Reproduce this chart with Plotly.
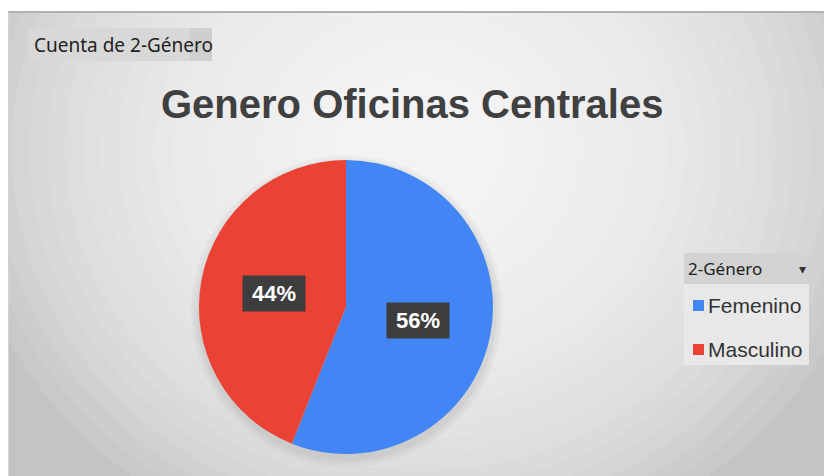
import math
import plotly.graph_objects as go

categories = ["Femenino", "Masculino"]
values = [56, 44]
colors = ["#4285F4", "#EA4335"]
title_text = "Genero Oficinas Centrales"
field_button = "Cuenta de 2-Género"
legend_header = "2-Género"

W, H = 824, 476
cx, cy, r = 346, 307, 147  # pie placement in px


def px_x(x):
    return x / W


def px_y(y):
    return 1 - y / H


fig = go.Figure()

shapes = []
# chart area base + radial gradient made of stacked translucent ellipses
shapes.append(dict(type="rect", xref="paper", yref="paper", x0=px_x(8), x1=1.0, y0=0, y1=px_y(12),
                   fillcolor="#c4c4c4", line=dict(width=0), layer="below"))
n = 22
gcx, gcy = 420, 150
for i in range(n):
    rad = 440 - i * 17
    shapes.append(dict(type="circle", xref="paper", yref="paper",
                       x0=px_x(gcx - rad * 1.05), x1=px_x(gcx + rad * 1.05),
                       y0=px_y(gcy + rad * 0.95), y1=px_y(gcy - rad * 0.95),
                       fillcolor="white", opacity=0.085, line=dict(width=0), layer="below"))
# white margins outside chart area
shapes.append(dict(type="rect", xref="paper", yref="paper", x0=0, x1=px_x(8), y0=0, y1=1,
                   fillcolor="white", line=dict(width=0), layer="below"))
shapes.append(dict(type="rect", xref="paper", yref="paper", x0=0, x1=1, y0=px_y(12), y1=1,
                   fillcolor="white", line=dict(width=0), layer="below"))
shapes.append(dict(type="line", xref="paper", yref="paper", x0=px_x(8), x1=1, y0=px_y(12), y1=px_y(12),
                   line=dict(color="#b0b0b0", width=2), layer="below"))
shapes.append(dict(type="line", xref="paper", yref="paper", x0=px_x(8.5), x1=px_x(8.5), y0=0, y1=px_y(12),
                   line=dict(color="#d2d2d2", width=1), layer="below"))
# soft pie shadow
for grow, op in [(9, 0.03), (6, 0.04), (3, 0.05)]:
    shapes.append(dict(type="circle", xref="paper", yref="paper",
                       x0=px_x(cx - r - grow + 1), x1=px_x(cx + r + grow + 1),
                       y0=px_y(cy + r + grow + 4), y1=px_y(cy - r - grow + 4),
                       fillcolor="#444444", opacity=op, line=dict(width=0), layer="below"))
# field button
shapes.append(dict(type="rect", xref="paper", yref="paper", x0=px_x(28), x1=px_x(212),
                   y0=px_y(61), y1=px_y(28), fillcolor="#d8d8d8", line=dict(width=0), layer="below"))
shapes.append(dict(type="rect", xref="paper", yref="paper", x0=px_x(190), x1=px_x(212),
                   y0=px_y(61), y1=px_y(28), fillcolor="#c9c9c9", opacity=0.6, line=dict(width=0), layer="below"))
# legend panel and header
shapes.append(dict(type="rect", xref="paper", yref="paper", x0=px_x(684), x1=px_x(809),
                   y0=px_y(365), y1=px_y(253), fillcolor="#e8e8e8", line=dict(width=0), layer="below"))
shapes.append(dict(type="rect", xref="paper", yref="paper", x0=px_x(684), x1=px_x(809),
                   y0=px_y(284), y1=px_y(253), fillcolor="#d3d3d3", line=dict(width=0), layer="below"))

fig.add_trace(go.Pie(
    labels=categories, values=values, sort=False, direction="clockwise", rotation=0,
    marker=dict(colors=colors, line=dict(width=0)),
    textinfo="none", hoverinfo="label+percent", showlegend=False,
    domain=dict(x=[px_x(cx - r), px_x(cx + r)], y=[px_y(cy + r), px_y(cy - r)]),
))

annotations = []
# percentage labels as boxed annotations, positioned from the data
total = sum(values)
cum = 0
for v in values:
    mid = (cum + v / 2) / total * 2 * math.pi
    cum += v
    lx = cx + 0.5 * r * math.sin(mid)
    ly = cy - 0.5 * r * math.cos(mid)
    annotations.append(dict(x=px_x(lx), y=px_y(ly), xref="paper", yref="paper",
                            xanchor="center", yanchor="middle",
                            text="<b>%d%%</b>" % round(v / total * 100), showarrow=False,
                            font=dict(family="Arial", size=22, color="white"),
                            bgcolor="#3d3d3d", borderpad=5, width=52, height=25))

annotations.append(dict(x=0.5, y=px_y(104), xref="paper", yref="paper", xanchor="center", yanchor="middle",
                        text="<b>" + title_text + "</b>", showarrow=False,
                        font=dict(family="Arial", size=40, color="#404040")))
annotations.append(dict(x=px_x(32), y=px_y(45), xref="paper", yref="paper", xanchor="left", yanchor="middle",
                        text=field_button, showarrow=False,
                        font=dict(family="Noto Sans", size=19, color="#222222")))
annotations.append(dict(x=px_x(686), y=px_y(268), xref="paper", yref="paper", xanchor="left", yanchor="middle",
                        text=legend_header, showarrow=False,
                        font=dict(family="Noto Sans", size=17, color="#222222")))
annotations.append(dict(x=px_x(802), y=px_y(269), xref="paper", yref="paper", xanchor="center", yanchor="middle",
                        text="▾", showarrow=False, font=dict(family="DejaVu Sans", size=14, color="#333333")))

# legend entries (square swatch + label)
leg_y0, leg_step = 305, 44
for i, (name, col) in enumerate(zip(categories, colors)):
    yy = leg_y0 + i * leg_step
    shapes.append(dict(type="rect", xref="paper", yref="paper", x0=px_x(693), x1=px_x(704),
                       y0=px_y(yy + 6), y1=px_y(yy - 5), fillcolor=col, line=dict(width=0)))
    annotations.append(dict(x=px_x(706), y=px_y(yy), xref="paper", yref="paper", xanchor="left",
                            yanchor="middle", text=name, showarrow=False,
                            font=dict(family="Arial", size=21, color="#333333")))

fig.update_layout(
    width=W, height=H, margin=dict(l=0, r=0, t=0, b=0),
    paper_bgcolor="white", plot_bgcolor="rgba(0,0,0,0)",
    showlegend=False,
    shapes=shapes, annotations=annotations,
)

fig.write_html("out.html")
